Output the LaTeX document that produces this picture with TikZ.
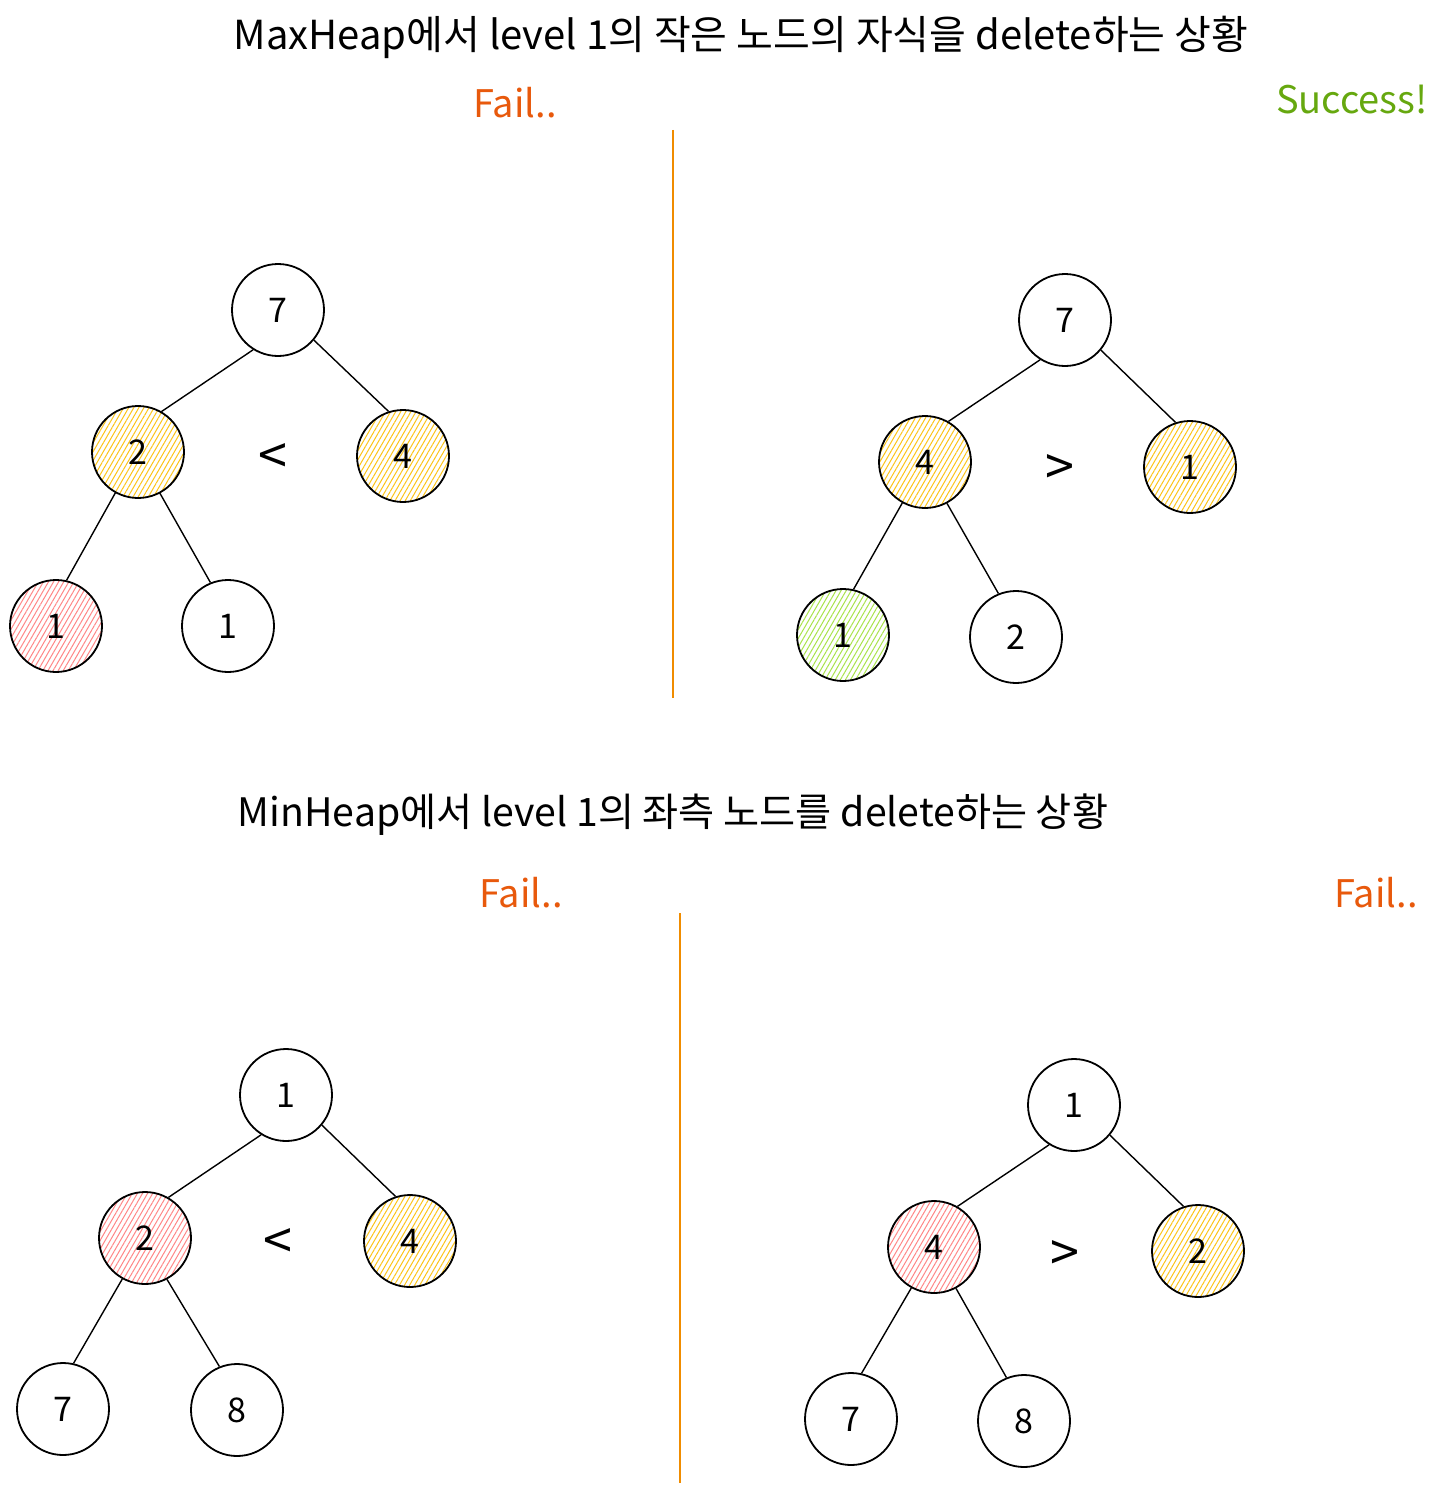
\documentclass[tikz,border=0pt]{standalone}
\usepackage{fontspec}
\setmainfont{Noto Sans CJK KR}
\usetikzlibrary{patterns.meta}
\definecolor{failc}{HTML}{E8590C}
\definecolor{succc}{HTML}{66A80F}
\definecolor{divc}{HTML}{F08C00}
\definecolor{yelc}{HTML}{FCC419}
\definecolor{redc}{HTML}{FF8787}
\definecolor{grnc}{HTML}{A9E34B}
\tikzset{
  hnode/.style={circle, draw=black, line width=0.9pt, minimum size=46pt, inner sep=0pt, font=\fontsize{17}{20}\selectfont},
  yelnode/.style={hnode, pattern={Lines[angle=60,distance=2.2pt,line width=0.5pt]}, pattern color=yelc},
  rednode/.style={hnode, pattern={Lines[angle=60,distance=2.2pt,line width=0.5pt]}, pattern color=redc},
  grnnode/.style={hnode, pattern={Lines[angle=60,distance=2.2pt,line width=0.5pt]}, pattern color=grnc},
  edge/.style={draw=black, line width=0.7pt},
  cmp/.style={font=\fontsize{26}{28}\selectfont},
  title/.style={font=\fontsize{20}{24}\selectfont, inner sep=0pt},
  title2/.style={font=\fontsize{19.6}{24}\selectfont, inner sep=0pt},
  fail/.style={text=failc, font=\fontsize{19}{22}\selectfont, inner sep=0pt},
  succ/.style={text=succc, font=\fontsize{19}{22}\selectfont, inner sep=0pt},
  divider/.style={draw=divc, line width=0.6pt}
}
\begin{document}
\begin{tikzpicture}[x=0.5pt,y=-0.5pt]
\useasboundingbox (0,0) rectangle (1437,1493);
\fill[white] (0,0) rectangle (1437,1493);

% ---- top section
\node[title] (t1) at (741,37) {MaxHeap에서 level 1의 작은 노드의 자식을 delete하는 상황};
\node[fail] (f1) at (515,103) {Fail..};
\node[succ] (s1) at (1352,100) {Success!};
\coordinate (d1a) at (673,130);
\coordinate (d1b) at (673,698);
\draw[divider] (d1a) -- (d1b);

% top-left tree
\node[hnode] (a7) at (278,310) {7};
\node[yelnode] (a2) at (138,452) {2};
\node[yelnode] (a4) at (403,456) {4};
\node[rednode] (a1l) at (56,626) {1};
\node[hnode] (a1r) at (228,626) {1};
\node[cmp] (alt) at (273,459) {<};
\draw[edge] (a7.238) -- (a2.60);
\draw[edge] (a7.320) -- (a4.108);
\draw[edge] (a2.241) -- (a1l.77);
\draw[edge] (a2.298) -- (a1r.112);

% top-right tree
\node[hnode] (b7) at (1065,320) {7};
\node[yelnode] (b4) at (925,462) {4};
\node[yelnode] (b1) at (1190,467) {1};
\node[grnnode] (b1l) at (843,635) {1};
\node[hnode] (b2) at (1016,637) {2};
\node[cmp] (bgt) at (1060,470) {>};
\draw[edge] (b7.238) -- (b4.60);
\draw[edge] (b7.320) -- (b1.108);
\draw[edge] (b4.241) -- (b1l.77);
\draw[edge] (b4.298) -- (b2.112);

% ---- bottom section
\node[title2] (t2) at (673,815) {MinHeap에서 level 1의 좌측 노드를 delete하는 상황};
\node[fail] (f2) at (521,893) {Fail..};
\node[fail] (f3) at (1376,893) {Fail..};
\coordinate (d2a) at (680,913);
\coordinate (d2b) at (680,1483);
\draw[divider] (d2a) -- (d2b);

% bottom-left tree
\node[hnode] (c1) at (286,1095) {1};
\node[rednode] (c2) at (145,1238) {2};
\node[yelnode] (c4) at (410,1241) {4};
\node[hnode] (c7) at (63,1409) {7};
\node[hnode] (c8) at (237,1410) {8};
\node[cmp] (clt) at (278,1244) {<};
\draw[edge] (c1.238) -- (c2.60);
\draw[edge] (c1.320) -- (c4.108);
\draw[edge] (c2.241) -- (c7.77);
\draw[edge] (c2.298) -- (c8.112);

% bottom-right tree
\node[hnode] (e1) at (1074,1105) {1};
\node[rednode] (e4) at (934,1247) {4};
\node[yelnode] (e2) at (1198,1251) {2};
\node[hnode] (e7) at (851,1419) {7};
\node[hnode] (e8) at (1024,1421) {8};
\node[cmp] (egt) at (1065,1256) {>};
\draw[edge] (e1.238) -- (e4.60);
\draw[edge] (e1.320) -- (e2.108);
\draw[edge] (e4.241) -- (e7.77);
\draw[edge] (e4.298) -- (e8.112);
\end{tikzpicture}
\end{document}
